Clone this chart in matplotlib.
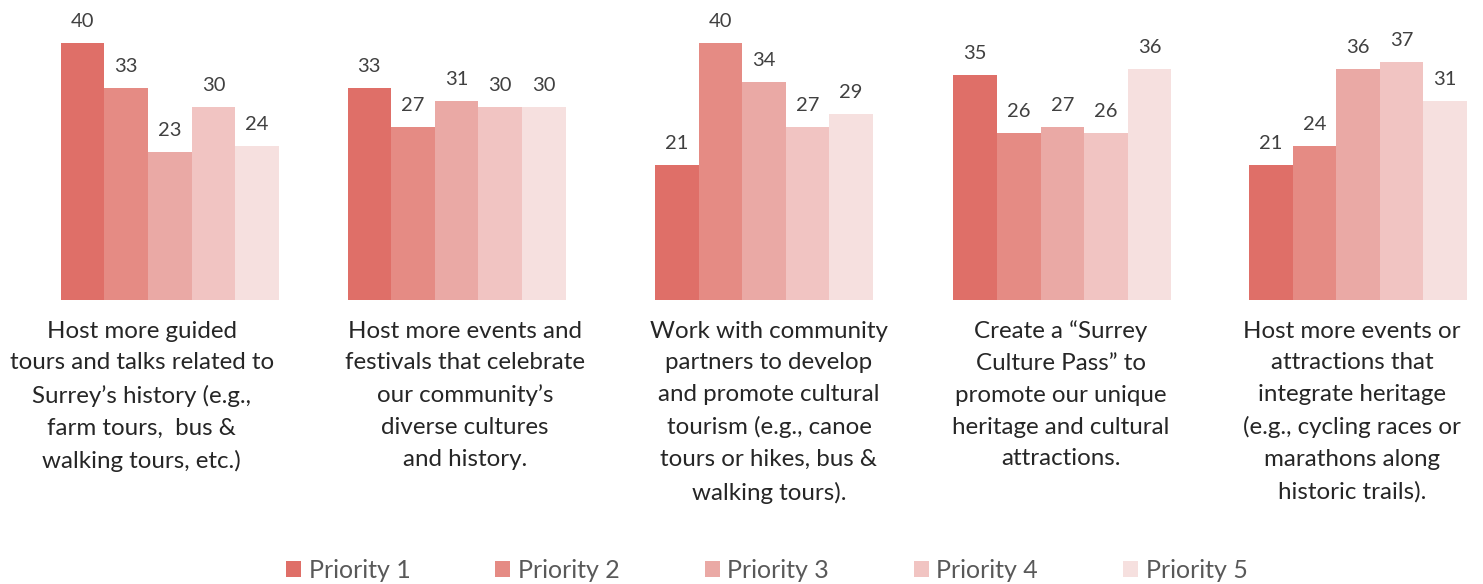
import numpy as np
import matplotlib.pyplot as plt

categories = [
    "Host more guided\ntours and talks related to\nSurrey\u2019s history (e.g.,\nfarm tours,  bus &\nwalking tours, etc.)",
    "Host more events and\nfestivals that celebrate\nour community\u2019s\ndiverse cultures\nand history.",
    "Work with community\npartners to develop\nand promote cultural\ntourism (e.g., canoe\ntours or hikes, bus &\nwalking tours).",
    "Create a \u201cSurrey\nCulture Pass\u201d to\npromote our unique\nheritage and cultural\nattractions.",
    "Host more events or\nattractions that\nintegrate heritage\n(e.g., cycling races or\nmarathons along\nhistoric trails).",
]
series = ["Priority 1", "Priority 2", "Priority 3", "Priority 4", "Priority 5"]
values = [
    [40, 33, 21, 35, 21],
    [33, 27, 40, 26, 24],
    [23, 31, 34, 27, 36],
    [30, 30, 27, 26, 37],
    [24, 30, 29, 36, 31],
]
colors = ["#DF6F68", "#E58B84", "#EAA9A5", "#F1C4C2", "#F6E0DF"]

# layout: group centres and label centres (axis units)
group_x = np.array([0, 0.965, 2.0, 3.005, 4.0])
label_x = np.array([-0.095, 0.993, 2.017, 3.0, 3.98])

plt.rcParams['font.family'] = ['Lato', 'DejaVu Sans']

fig = plt.figure(figsize=(14.83, 5.84), dpi=100)
ax = fig.add_axes([0, 0.4863, 1, 0.5137])

w = 0.1468
for k, (name, vals) in enumerate(zip(series, values)):
    pos = group_x + (k - 2) * w
    ax.bar(pos, vals, w, color=colors[k], label=name)
    for p, v in zip(pos, vals):
        ax.text(p, v + 2.0, str(v), ha='center', va='bottom', fontsize=14.5, color='#404040')

ax.set_xlim(-0.572, 4.421)
ax.set_ylim(0, 46.7)
ax.axis('off')

for lx, lab in zip(label_x, categories):
    ax.text(lx, -3.2, lab, ha='center', va='top', fontsize=17.4, color='#262626',
            linespacing=1.63)

fig.legend(loc='center', ncol=5, frameon=False, fontsize=18,
           bbox_to_anchor=(0.517, 0.023), handlelength=0.6, handleheight=0.6,
           handletextpad=0.3, columnspacing=3.4, labelcolor='#595959')

plt.savefig('out.png', dpi=100)
